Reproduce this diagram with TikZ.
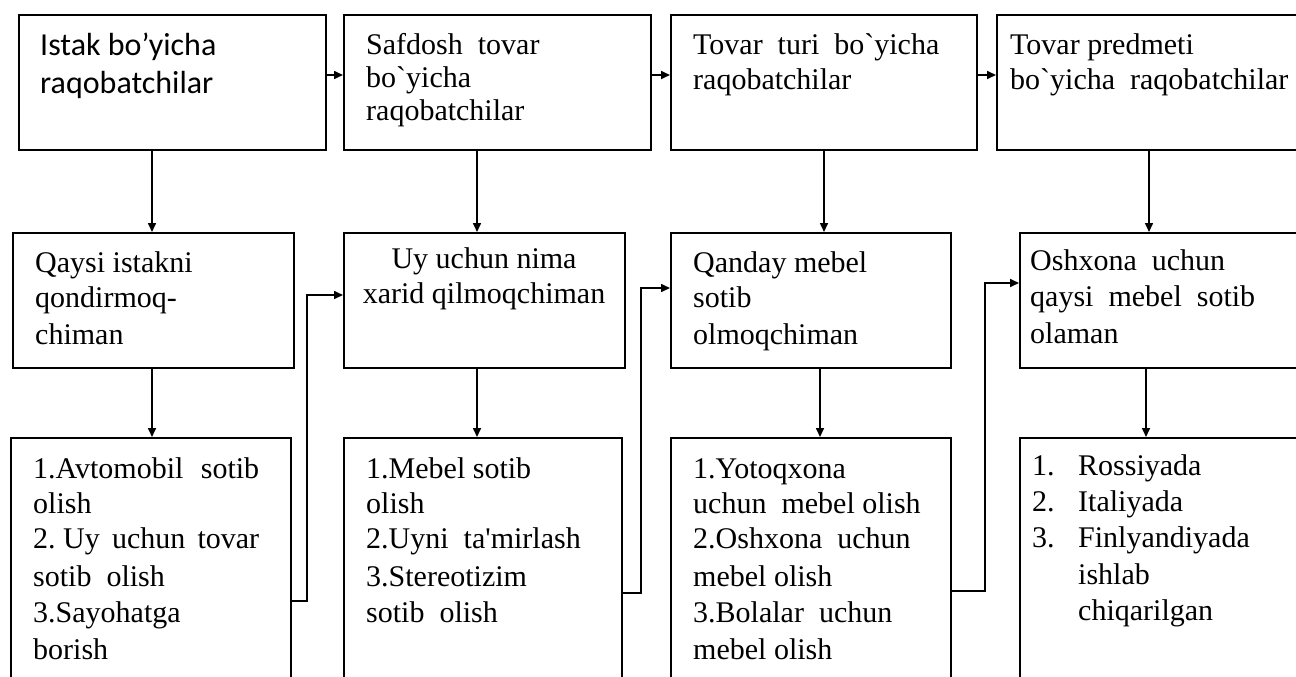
\documentclass[tikz,border=0pt]{standalone}
\usepackage{fontspec}
\newfontfamily\serifface{Liberation Serif}
\newfontfamily\sansface{Carlito}
\usetikzlibrary{arrows.meta}
\begin{document}
\begin{tikzpicture}[x=1pt,y=-1pt,
  box/.style={draw, line width=1.6pt, rectangle, inner sep=0pt, anchor=north west},
  lbl/.style={anchor=base west, inner sep=0pt, font=\serifface\fontsize{30}{34}\selectfont},
  slbl/.style={anchor=base west, inner sep=0pt, font=\sansface\fontsize{32}{36}\selectfont},
  arr/.style={line width=1.6pt, -{Triangle[length=9pt,width=8pt]}},
  wire/.style={line width=1.6pt}]
\useasboundingbox (0,0) rectangle (1296,677);
\clip (0,0) rectangle (1296,677);

% boxes: top row
\node[box, minimum width=307pt, minimum height=135pt] (t1) at (18,14) {};
\node[box, minimum width=307pt, minimum height=135pt] (t2) at (343,14) {};
\node[box, minimum width=306pt, minimum height=135pt] (t3) at (670,14) {};
\node[box, minimum width=400pt, minimum height=135pt] (t4) at (996,14) {};
% middle row
\node[box, minimum width=281pt, minimum height=135pt] (m1) at (12,232) {};
\node[box, minimum width=281pt, minimum height=135pt] (m2) at (343,232) {};
\node[box, minimum width=280pt, minimum height=135pt] (m3) at (670,232) {};
\node[box, minimum width=400pt, minimum height=135pt] (m4) at (1019,232) {};
% bottom row
\node[box, minimum width=280pt, minimum height=300pt] (b1) at (10,437) {};
\node[box, minimum width=278pt, minimum height=300pt] (b2) at (343,437) {};
\node[box, minimum width=280pt, minimum height=300pt] (b3) at (670,437) {};
\node[box, minimum width=400pt, minimum height=300pt] (b4) at (1019,437) {};

% texts of the top row
\node[slbl] (t1a) at (40,56) {Istak bo’yicha};
\node[slbl] (t1b) at (40,93) {raqobatchilar};
\node[lbl] (t2a) at (366,55) {Safdosh \ tovar};
\node[lbl] (t2b) at (366,88) {bo`yicha};
\node[lbl] (t2c) at (366,121) {raqobatchilar};
\node[lbl] (t3a) at (693,55) {Tovar \ turi \ bo`yicha};
\node[lbl] (t3b) at (693,89) {raqobatchilar};
\node[lbl] (t4a) at (1010,55) {Tovar predmeti};
\node[lbl] (t4b) at (1010,89) {bo`yicha \ raqobatchilar};

% texts of the middle row
\node[lbl] (m1a) at (35,272) {Qaysi istakni};
\node[lbl] (m1b) at (35,307) {qondirmoq-};
\node[lbl] (m1c) at (35,344) {chiman};
\node[lbl, anchor=base] (m2a) at (484,268) {Uy uchun nima};
\node[lbl, anchor=base] (m2b) at (484,303) {xarid qilmoqchiman};
\node[lbl] (m3a) at (693,272) {Qanday mebel};
\node[lbl] (m3b) at (693,307) {sotib};
\node[lbl] (m3c) at (693,344) {olmoqchiman};
\node[lbl] (m4a) at (1030,270) {Oshxona \ uchun};
\node[lbl] (m4b) at (1030,306) {qaysi \ mebel \ sotib};
\node[lbl] (m4c) at (1030,343) {olaman};

% texts of the bottom row
\node[lbl] (b1a) at (33,478) {\makebox[226pt][s]{1.Avtomobil sotib}};
\node[lbl] (b1b) at (33,513) {olish};
\node[lbl] (b1c) at (33,548) {2.\hspace{0.25em}\makebox[196pt][s]{Uy uchun tovar}};
\node[lbl] (b1d) at (33,586) {sotib \ olish};
\node[lbl] (b1e) at (33,622) {3.Sayohatga};
\node[lbl] (b1f) at (33,659) {borish};
\node[lbl] (b2a) at (366,478) {1.Mebel sotib};
\node[lbl] (b2b) at (366,513) {olish};
\node[lbl] (b2c) at (366,548) {2.Uyni \ ta'mirlash};
\node[lbl] (b2d) at (366,586) {3.Stereotizim};
\node[lbl] (b2e) at (366,622) {sotib \ olish};
\node[lbl] (b3a) at (693,478) {1.Yotoqxona};
\node[lbl] (b3b) at (693,513) {uchun \ mebel olish};
\node[lbl] (b3c) at (693,548) {2.Oshxona \ uchun};
\node[lbl] (b3d) at (693,586) {mebel olish};
\node[lbl] (b3e) at (693,622) {3.Bolalar \ uchun};
\node[lbl] (b3f) at (693,659) {mebel olish};
\node[lbl] (b4n1) at (1032,475) {1.};
\node[lbl] (b4a) at (1078,475) {Rossiyada};
\node[lbl] (b4n2) at (1032,511) {2.};
\node[lbl] (b4b) at (1078,511) {Italiyada};
\node[lbl] (b4n3) at (1032,547) {3.};
\node[lbl] (b4c) at (1078,547) {Finlyandiyada};
\node[lbl] (b4d) at (1078,584) {ishlab};
\node[lbl] (b4e) at (1078,620) {chiqarilgan};

% reference points for the connectors
\coordinate (rowtop) at (0,75);
\coordinate (c1) at (152,0);
\coordinate (c2) at (477,0);
\coordinate (c3) at (824,0);
\coordinate (c3b) at (820,0);
\coordinate (c4) at (1149,0);
\coordinate (c4b) at (1146,0);

% top row links
\draw[arr] (t1.east |- rowtop) -- (t2.west |- rowtop);
\draw[arr] (t2.east |- rowtop) -- (t3.west |- rowtop);
\draw[arr] (t3.east |- rowtop) -- (t4.west |- rowtop);

% vertical links
\draw[arr] (t1.south -| c1) -- (m1.north -| c1);
\draw[arr] (m1.south -| c1) -- (b1.north -| c1);
\draw[arr] (t2.south -| c2) -- (m2.north -| c2);
\draw[arr] (m2.south -| c2) -- (b2.north -| c2);
\draw[arr] (t3.south -| c3) -- (m3.north -| c3);
\draw[arr] (m3.south -| c3b) -- (b3.north -| c3b);
\draw[arr] (t4.south -| c4) -- (m4.north -| c4);
\draw[arr] (m4.south -| c4b) -- (b4.north -| c4b);

% elbow links from each list to the next question
\coordinate (e1) at (290,601);
\coordinate (e2) at (621,593);
\coordinate (e3) at (950,591);
\coordinate (h1) at (0,295);
\coordinate (h2) at (0,288);
\coordinate (h3) at (0,283);
\draw[arr] (e1) -- ++(17,0) |- (m2.west |- h1);
\draw[arr] (e2) -- ++(20,0) |- (m3.west |- h2);
\draw[arr] (e3) -- ++(35,0) |- (m4.west |- h3);
\end{tikzpicture}
\end{document}
